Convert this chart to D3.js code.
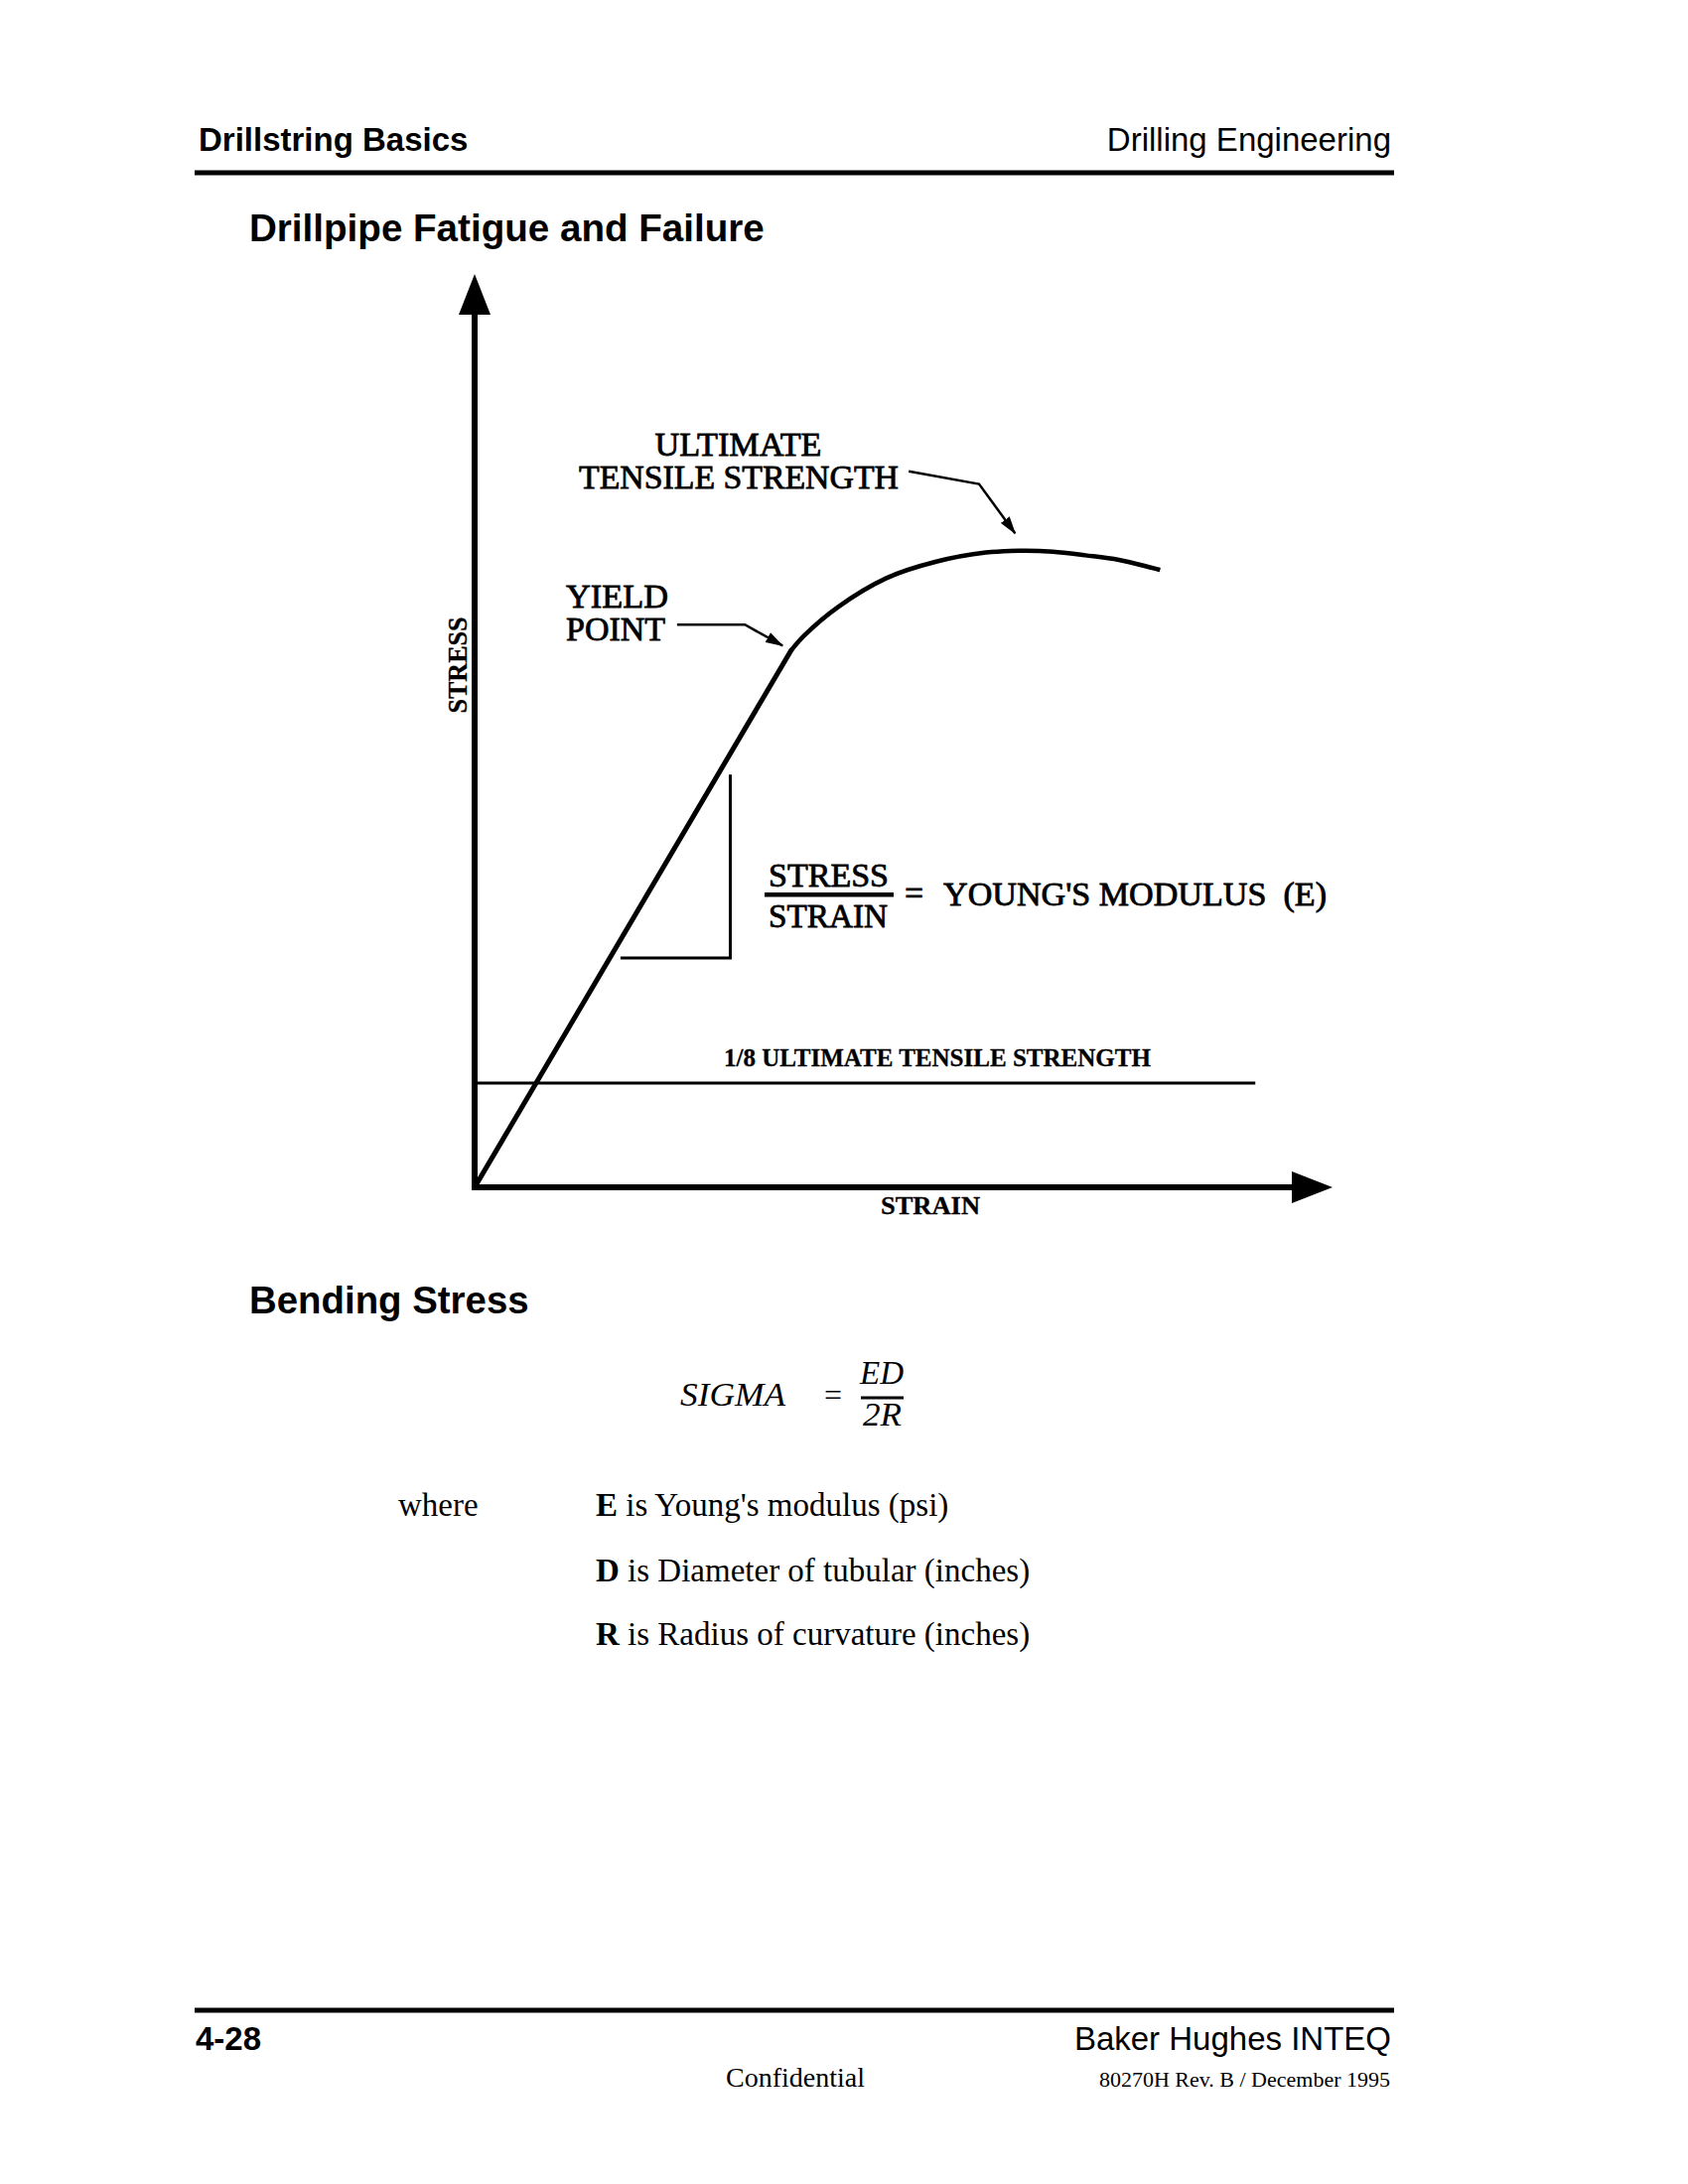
<!DOCTYPE html>
<html>
<head>
<meta charset="utf-8">
<script src="https://cdn.jsdelivr.net/npm/d3@7"></script>
<style>
  body { margin: 0; background: #fff; }
  svg { display: block; }
</style>
</head>
<body>
<script>
// ---------------- DATA (arbitrary units 0..100) ----------------
const strain = [0, 36.9, 38.4, 42.3, 48.0, 53.8, 59.6, 63.5, 67.4, 71.2, 75.1, 79.9];
const stress = [0, 58.8, 60.4, 63.5, 66.7, 68.5, 69.5, 69.7, 69.6, 69.2, 68.7, 67.6];
const yieldIndex = 1;                       // end of the straight (elastic) part
const fatigueStress = 11.4;                  // "1/8 ultimate tensile strength" level
const fatigueStrainEnd = 91.0;
const slopeStrain = [17.0, 29.8, 29.8];      // Young's modulus triangle
const slopeStress = [25.1, 25.1, 45.2];
const utsLeaderStrain = [50.6, 58.8, 63.0];
const utsLeaderStress = [78.4, 77.0, 71.6];
const yieldLeaderStrain = [23.6, 31.5, 35.9];
const yieldLeaderStress = [61.6, 61.6, 59.3];
const axisMax = 100;

const headerLeft = "Drillstring Basics";
const headerRight = "Drilling Engineering";
const title1 = "Drillpipe Fatigue and Failure";
const title2 = "Bending Stress";
const xAxisLabel = "STRAIN";
const yAxisLabel = "STRESS";
const utsLabel = ["ULTIMATE", "TENSILE STRENGTH"];
const yieldLabel = ["YIELD", "POINT"];
const modulusLabel = ["STRESS", "STRAIN", "=", "YOUNG'S MODULUS\u00A0\u00A0(E)"];
const fatigueLabel = "1/8 ULTIMATE TENSILE STRENGTH";
const whereTerms = ["E", "D", "R"];
const whereTexts = [" is Young's modulus (psi)", " is Diameter of tubular (inches)", " is Radius of curvature (inches)"];
const footerLeft = "4-28";
const footerRight = "Baker Hughes INTEQ";
const footerCenter = "Confidential";
const footerRev = "80270H Rev. B / December 1995";

// ---------------- LAYOUT ----------------
const W = 1700, H = 2200;
const SANS = "'Liberation Sans', Arial, Helvetica, sans-serif";
const SERIF = "'Liberation Serif', 'Times New Roman', Times, serif";

const svg = d3.select("body").append("svg")
  .attr("width", W).attr("height", H)
  .style("background", "#fff");

const x = d3.scaleLinear().domain([0, axisMax]).range([478, 1342]);
const y = d3.scaleLinear().domain([0, axisMax]).range([1196, 276]);

function txt(g, s, px, py, o = {}) {
  const t = g.append("text")
    .attr("x", px).attr("y", py)
    .attr("font-family", o.family || SERIF)
    .attr("font-size", o.size || 33)
    .attr("font-weight", o.weight || "normal")
    .attr("font-style", o.style || "normal")
    .attr("text-anchor", o.anchor || "start")
    .attr("fill", "#000")
    .text(s);
  if (o.len) t.attr("textLength", o.len).attr("lengthAdjust", "spacingAndGlyphs");
  if (o.stroke) t.attr("stroke", "#000").attr("stroke-width", o.stroke);
  return t;
}

// ---------------- PAGE HEADER ----------------
const page = svg.append("g");
txt(page, headerLeft, 200, 152, { family: SANS, size: 33, weight: "bold" });
txt(page, headerRight, 1401, 152, { family: SANS, size: 33, anchor: "end" });
page.append("rect").attr("x", 196).attr("y", 171.5).attr("width", 1208).attr("height", 5).attr("fill", "#000");
txt(page, title1, 251, 243, { family: SANS, size: 38.6, weight: "bold" });

// ---------------- CHART ----------------
const chart = svg.append("g");
const defs = svg.append("defs");
defs.append("marker")
  .attr("id", "arr").attr("markerUnits", "userSpaceOnUse")
  .attr("viewBox", "0 -6 18 12").attr("refX", 17).attr("refY", 0)
  .attr("markerWidth", 18).attr("markerHeight", 12).attr("orient", "auto")
  .append("path").attr("d", "M0,-5.5L18,0L0,5.5Z").attr("fill", "#000");

// axes (lines + arrowheads), built from the scales
const ax0 = x(0), ay0 = y(0), axT = x(axisMax), ayT = y(axisMax);
const headL = 41, headW = 16;
chart.append("line").attr("x1", ax0).attr("y1", ay0 + 3).attr("x2", ax0).attr("y2", ayT + headL - 1)
  .attr("stroke", "#000").attr("stroke-width", 6);
chart.append("path")
  .attr("d", `M${ax0},${ayT}L${ax0 + headW},${ayT + headL}L${ax0 - headW},${ayT + headL}Z`).attr("fill", "#000");
chart.append("line").attr("x1", ax0 - 3).attr("y1", ay0).attr("x2", axT - headL + 1).attr("y2", ay0)
  .attr("stroke", "#000").attr("stroke-width", 6);
chart.append("path")
  .attr("d", `M${axT},${ay0}L${axT - headL},${ay0 - headW}L${axT - headL},${ay0 + headW}Z`).attr("fill", "#000");

// fatigue level line
chart.append("line")
  .attr("x1", x(0)).attr("y1", y(fatigueStress)).attr("x2", x(fatigueStrainEnd)).attr("y2", y(fatigueStress))
  .attr("stroke", "#000").attr("stroke-width", 3);

// stress-strain curve: linear elastic part + smooth plastic part
const pts = strain.map((s, i) => [s, stress[i]]);
const lineLin = d3.line().x(d => x(d[0])).y(d => y(d[1]));
const lineCurve = d3.line().x(d => x(d[0])).y(d => y(d[1])).curve(d3.curveCatmullRom.alpha(0.5));
chart.append("path").attr("d", lineLin(pts.slice(0, yieldIndex + 1)))
  .attr("fill", "none").attr("stroke", "#000").attr("stroke-width", 5).attr("stroke-linecap", "round");
chart.append("path").attr("d", lineCurve(pts.slice(yieldIndex)))
  .attr("fill", "none").attr("stroke", "#000").attr("stroke-width", 4.5).attr("stroke-linecap", "butt");

// slope triangle
const tri = slopeStrain.map((s, i) => [s, slopeStress[i]]);
chart.append("path").attr("d", lineLin(tri))
  .attr("fill", "none").attr("stroke", "#000").attr("stroke-width", 3);

// leaders
function leader(sx, sy) {
  chart.append("path").attr("d", lineLin(sx.map((s, i) => [s, sy[i]])))
    .attr("fill", "none").attr("stroke", "#000").attr("stroke-width", 2.5)
    .attr("marker-end", "url(#arr)");
}
leader(utsLeaderStrain, utsLeaderStress);
leader(yieldLeaderStrain, yieldLeaderStress);

// chart labels
const ST = 0.8;
txt(chart, utsLabel[0], 743.5, 458.5, { size: 34, anchor: "middle", len: 168, stroke: ST });
txt(chart, utsLabel[1], 583, 492, { size: 34, len: 322, stroke: ST });
txt(chart, yieldLabel[0], 570, 612, { size: 34, len: 103, stroke: ST });
txt(chart, yieldLabel[1], 570, 645, { size: 34, len: 100, stroke: ST });

txt(chart, modulusLabel[0], 774, 893, { size: 33, len: 121, stroke: ST });
chart.append("rect").attr("x", 770).attr("y", 899).attr("width", 130).attr("height", 4.5).attr("fill", "#000");
txt(chart, modulusLabel[1], 774, 934, { size: 33, len: 120, stroke: ST });
txt(chart, modulusLabel[2], 920.5, 911, { size: 33, anchor: "middle", stroke: 1 });
txt(chart, modulusLabel[3], 950, 911.5, { size: 33, len: 386, stroke: ST }).style("white-space", "pre");

txt(chart, fatigueLabel, 729, 1074, { size: 26, weight: "bold", len: 430, stroke: 0.3 });
txt(chart, xAxisLabel, 887, 1223, { size: 26, weight: "bold", len: 100, stroke: 0.3 });
txt(chart, yAxisLabel, 0, 0, { size: 28, weight: "bold", anchor: "middle", len: 97, stroke: 0.3 })
  .attr("transform", "translate(470,670) rotate(-90)");

// ---------------- BENDING STRESS ----------------
const bend = svg.append("g");
txt(bend, title2, 251, 1323, { family: SANS, size: 38.4, weight: "bold" });
txt(bend, "SIGMA", 685, 1415.5, { size: 34, style: "italic", len: 106 });
txt(bend, "=", 839, 1416, { size: 32, anchor: "middle" });
txt(bend, "ED", 866, 1393.5, { size: 34, style: "italic", len: 44 });
bend.append("rect").attr("x", 867).attr("y", 1406.5).attr("width", 43).attr("height", 3).attr("fill", "#000");
txt(bend, "2R", 869, 1436, { size: 34, style: "italic", len: 39 });

txt(bend, "where", 401, 1527, { size: 33 });
const rowY = [1527, 1593, 1657];
whereTerms.forEach((term, i) => {
  const t = bend.append("text").attr("x", 600).attr("y", rowY[i])
    .attr("font-family", SERIF).attr("font-size", 33).attr("fill", "#000");
  t.append("tspan").attr("font-weight", "bold").text(term);
  t.append("tspan").text(whereTexts[i]);
});

// ---------------- FOOTER ----------------
const foot = svg.append("g");
foot.append("rect").attr("x", 196).attr("y", 2022.5).attr("width", 1208).attr("height", 5).attr("fill", "#000");
txt(foot, footerLeft, 197, 2065, { family: SANS, size: 33, weight: "bold" });
txt(foot, footerRight, 1401, 2065, { family: SANS, size: 33, anchor: "end" });
txt(foot, footerCenter, 731, 2102, { size: 28 });
txt(foot, footerRev, 1400, 2102, { size: 22, anchor: "end" });
</script>
</body>
</html>
